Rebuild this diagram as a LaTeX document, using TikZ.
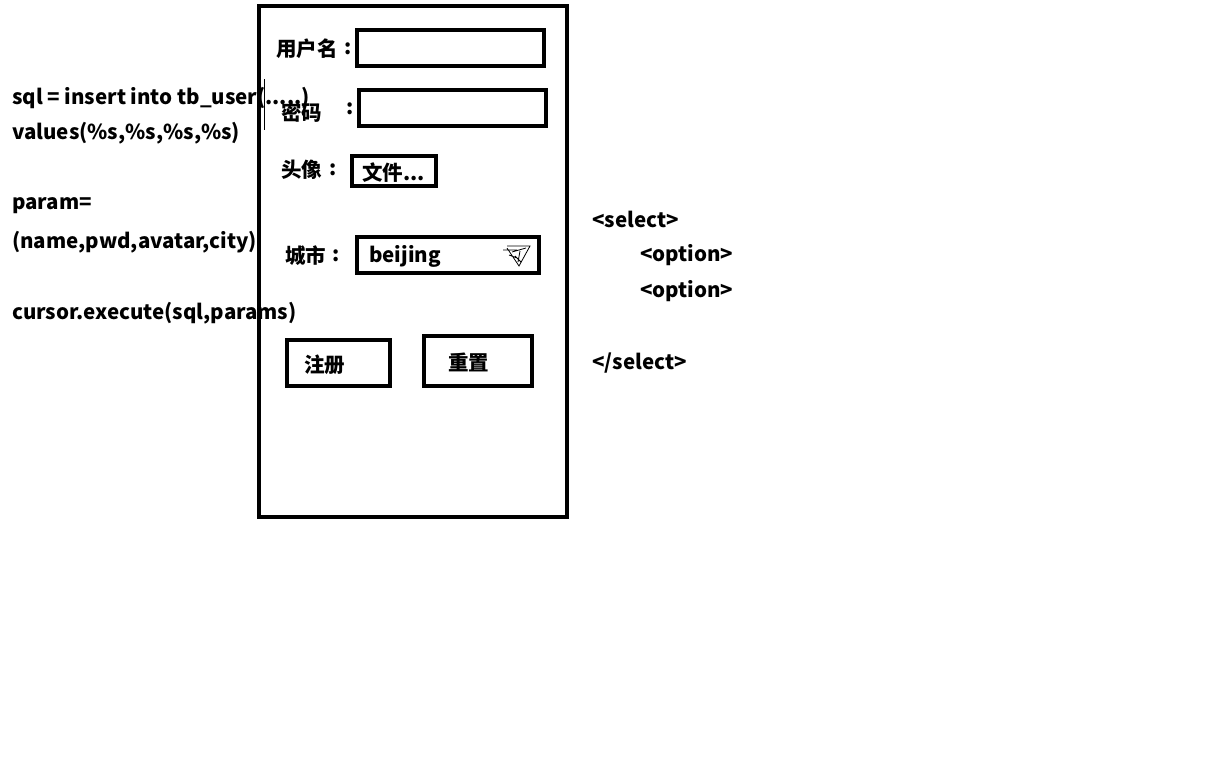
\documentclass[tikz,border=0pt]{standalone}
\usepackage{fontspec}
\setmainfont{Noto Sans CJK SC}
\begin{document}
\begin{tikzpicture}[x=1pt,y=-1pt,
  txt/.style={anchor=west,inner sep=0pt,font=\fontsize{20.5}{20.5}\selectfont\bfseries},
  colon/.style={anchor=center,inner sep=0pt,font=\fontsize{20.5}{20.5}\selectfont\bfseries},
  box/.style={draw,line width=4pt,inner sep=0pt,rectangle},
  thin/.style={line width=0.8pt}]
\useasboundingbox[fill=white] (0,0) rectangle (1217,771);
% left code text
\node[txt] (t1) at (12,98) {sql = insert into tb\_user(.....)};
\node[txt] (t2) at (12,133) {values(\%s,\%s,\%s,\%s)};
\node[txt] (t3) at (12,206) {param=};
\node[txt] (t4) at (12,242) {(name,pwd,avatar,city)};
\node[txt] (t5) at (12,313) {cursor.execute(sql,params)};
% frame
\node[box,minimum width=308pt,minimum height=511pt] (frame) at (413,261.5) {};
\coordinate (cta) at (264,79);
\coordinate (ctb) at (264,130);
\draw[thin] (cta) -- (ctb);
% username
\node[txt] (l1) at (276,49) {用户名};
\node[colon] (c1) at (348,49) {:};
\node[box,minimum width=187pt,minimum height=36pt] (i1) at (450.5,48) {};
% password
\node[txt] (l2) at (281,113) {密码};
\node[colon] (c2) at (350,109) {:};
\node[box,minimum width=187pt,minimum height=36pt] (i2) at (452.5,108) {};
% avatar
\node[txt] (l3) at (281,170) {头像};
\node[colon] (c3) at (333,170) {:};
\node[box,minimum width=84pt,minimum height=30pt] (i3) at (394,171) {};
\node[txt] (f3) at (362,173) {文件...};
% city
\node[txt] (l4) at (285,256) {城市};
\node[colon] (c4) at (336,256) {:};
\node[box,minimum width=182pt,minimum height=36pt] (i4) at (448,255) {};
\node[txt] (v4) at (369,256) {beijing};
\draw[thin] (503,250) -- (517,250) (507,246) -- (530,246) -- (519,266) -- (507,248)
  (512,252) -- (526,248) (515,256) -- (521,262) (509,255) -- (517,258) (520,251) -- (518,262);
% buttons
\node[box,minimum width=103pt,minimum height=46pt] (i5) at (338.5,363) {};
\node[txt] (b1) at (304,365) {注册};
\node[box,minimum width=108pt,minimum height=50pt] (i6) at (478,361) {};
\node[txt] (b2) at (448,362) {重置};
% select
\node[txt] (s1) at (592,219) {<select>};
\node[txt] (s2) at (640,255) {<option>};
\node[txt] (s3) at (640,291) {<option>};
\node[txt] (s4) at (592,363) {</select>};
\end{tikzpicture}
\end{document}
